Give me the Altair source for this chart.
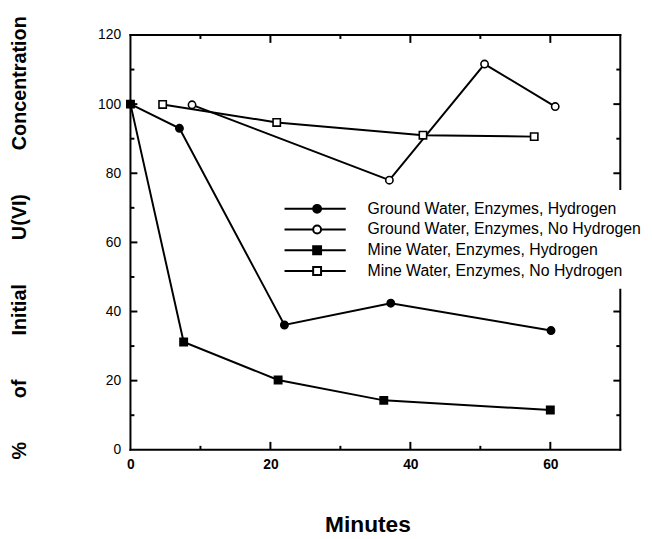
import altair as alt
import pandas as pd

# ---------------- data ----------------
series_names = [
    "Ground Water, Enzymes, Hydrogen",
    "Ground Water, Enzymes, No Hydrogen",
    "Mine Water, Enzymes, Hydrogen",
    "Mine Water, Enzymes, No Hydrogen",
]
gw_h_min = [0, 7.0, 22.0, 37.2, 60.1]
gw_h_pct = [100, 93.0, 36.1, 42.4, 34.5]
gw_nh_min = [8.8, 37.0, 50.6, 60.7]
gw_nh_pct = [99.8, 78.0, 111.6, 99.3]
mw_h_min = [0, 7.6, 21.1, 36.2, 60.0]
mw_h_pct = [100, 31.2, 20.2, 14.3, 11.5]
mw_nh_min = [4.6, 20.9, 41.8, 57.7]
mw_nh_pct = [99.9, 94.7, 91.0, 90.6]

x_label_values = [0, 20, 40, 60]
y_label_values = [0, 20, 40, 60, 80, 100, 120]
x_major_ticks = [20, 40, 60]
x_minor_ticks = [10, 30, 50]
y_major_ticks = [20, 40, 60, 80, 100]
y_minor_ticks = [10, 30, 50, 70, 90, 110]

x_domain = [0, 70]
y_domain = [0, 120]

marker_shapes = ["circle", "circle", "square", "square"]
marker_fills = ["black", "white", "black", "white"]
marker_strokes = ["black", "black", "black", "black"]

# legend symbols: a line with the marker in it (unit = half the symbol size)
legend_paths = [
    "M-1,0H6.75M2.625,0A0.5,0.5,0,1,0,3.625,0A0.5,0.5,0,1,0,2.625,0Z",
    "M-1,0H2.625M3.625,0H6.75M2.625,0A0.5,0.5,0,1,0,3.625,0A0.5,0.5,0,1,0,2.625,0Z",
    "M-1,0H6.75M2.625,-0.5H3.625V0.5H2.625Z",
    "M-1,0H2.625M3.625,0H6.75M2.625,-0.5H3.625V0.5H2.625Z",
]

rows = []
for name, mins, pcts in [
    (series_names[0], gw_h_min, gw_h_pct),
    (series_names[1], gw_nh_min, gw_nh_pct),
    (series_names[2], mw_h_min, mw_h_pct),
    (series_names[3], mw_nh_min, mw_nh_pct),
]:
    for m, p in zip(mins, pcts):
        rows.append({"series": name, "minutes": m, "pct": p})
df = pd.DataFrame(rows)

FONT = "Liberation Sans"
W, H = 496, 420
NB = "\u00a0" * 8
y_title = f"%{NB}of{NB}Initial{NB}U(VI){NB}Concentration"

xscale = alt.Scale(domain=x_domain, nice=False, zero=False)
yscale = alt.Scale(domain=y_domain, nice=False, zero=False)

x_axis = alt.Axis(
    values=x_label_values, ticks=False, domain=False, grid=False,
    labelFont=FONT, labelFontSize=14, labelFontWeight="bold", labelColor="black",
    labelPadding=8, labelFlush=False, labelOverlap=False,
    title="Minutes", titleFont=FONT, titleFontSize=23, titleFontWeight="bold",
    titleColor="black", titleX=240, titleY=83, titleBaseline="alphabetic",
    titleAlign="center",
)
y_axis = alt.Axis(
    values=y_label_values, ticks=False, domain=False, grid=False,
    labelFont=FONT, labelFontSize=14, labelColor="black",
    labelPadding=10, labelFlush=False, labelOverlap=False,
    title=y_title, titleFont=FONT, titleFontSize=20, titleFontWeight="bold",
    titleColor="black", titleAngle=270, titleX=-112, titleY=205,
    titleAlign="center", titleBaseline="middle",
)

# ---------------- frame ----------------
frame_df = pd.DataFrame({
    "minutes": [0, 70, 0, 0],
    "minutes2": [0, 70, 70, 70],
    "pct": [0, 0, 0, 120],
    "pct2": [120, 120, 0, 120],
})
frame = alt.Chart(frame_df).mark_rule(color="black", strokeWidth=2, strokeCap="square").encode(
    x=alt.X("minutes:Q", scale=xscale), x2="minutes2:Q",
    y=alt.Y("pct:Q", scale=yscale), y2="pct2:Q",
)

def xticks(vals, length, side):
    d = pd.DataFrame({"minutes": vals})
    y0, y1 = (H, H - length) if side == "bottom" else (0, length)
    return alt.Chart(d).mark_rule(color="black", strokeWidth=2).encode(
        x=alt.X("minutes:Q", scale=xscale), y=alt.value(y0), y2=alt.value(y1))

def yticks(vals, length, side):
    d = pd.DataFrame({"pct": vals})
    x0, x1 = (0, length) if side == "left" else (W, W - length)
    return alt.Chart(d).mark_rule(color="black", strokeWidth=2).encode(
        y=alt.Y("pct:Q", scale=yscale), x=alt.value(x0), x2=alt.value(x1))

tick_layers = [
    xticks(x_major_ticks, 8, "bottom"), xticks(x_minor_ticks, 4, "bottom"),
    xticks(x_major_ticks, 8, "top"), xticks(x_minor_ticks, 4, "top"),
    yticks(y_major_ticks, 7, "left"), yticks(y_minor_ticks, 4, "left"),
    yticks(y_major_ticks, 7, "right"), yticks(y_minor_ticks, 4, "right"),
]

# ---------------- data marks ----------------
base = alt.Chart(df)
lines = base.mark_line(color="black", strokeWidth=2).encode(
    x=alt.X("minutes:Q", scale=xscale, axis=x_axis),
    y=alt.Y("pct:Q", scale=yscale, axis=y_axis),
    detail="series:N",
    order="minutes:Q",
)
points = base.mark_point(stroke="black", strokeWidth=1.6, opacity=1, size=55).encode(
    x=alt.X("minutes:Q", scale=xscale),
    y=alt.Y("pct:Q", scale=yscale),
    shape=alt.Shape("series:N", scale=alt.Scale(domain=series_names, range=marker_shapes), legend=None),
    fill=alt.Fill("series:N", scale=alt.Scale(domain=series_names, range=marker_fills), legend=None),
)

legend_kw = dict(
    orient="none", legendX=145, legendY=157, title=None,
    labelFont=FONT, labelFontSize=16, labelColor="black", labelLimit=600,
    labelOffset=67, symbolSize=256, symbolStrokeWidth=2, symbolStrokeColor="black",
    rowPadding=4, padding=10, fillColor="white", symbolOpacity=1,
)
legend_layer = base.transform_filter("false").mark_point(
    strokeWidth=2, opacity=1
).encode(
    x=alt.X("minutes:Q", scale=xscale),
    y=alt.Y("pct:Q", scale=yscale),
    shape=alt.Shape("series:N", scale=alt.Scale(domain=series_names, range=legend_paths),
                    legend=alt.Legend(**legend_kw)),
    fill=alt.Fill("series:N", scale=alt.Scale(domain=series_names, range=marker_fills),
                  legend=alt.Legend(**legend_kw)),
    stroke=alt.Stroke("series:N", scale=alt.Scale(domain=series_names, range=marker_strokes),
                      legend=alt.Legend(**legend_kw)),
)

chart = alt.layer(
    frame, *tick_layers, lines, points, legend_layer
).resolve_scale(
    shape="independent", fill="independent", stroke="independent"
).properties(
    width=W, height=H,
    autosize=alt.AutoSizeParams(type="none"),
    padding={"left": 124, "top": 24, "right": 24, "bottom": 87},
    background="white",
).configure_view(stroke=None)

chart.save("out.html", embed_options={"renderer": "svg", "actions": False})
